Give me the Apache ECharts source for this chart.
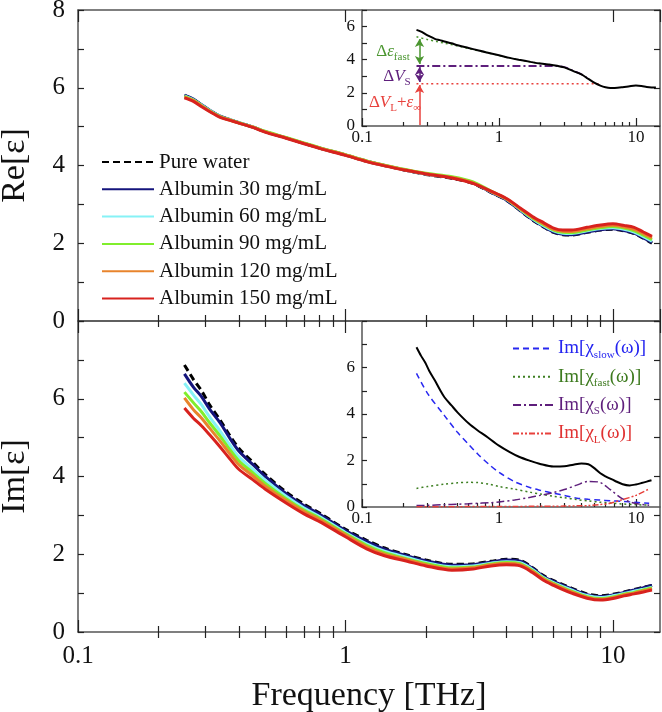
<!DOCTYPE html>
<html><head><meta charset="utf-8">
<script src="https://cdn.jsdelivr.net/npm/echarts@6/dist/echarts.min.js"></script>
<style>html,body{margin:0;padding:0;background:#fff}#c{width:662px;height:712px}</style>
</head><body><div id="c"></div>
<script>
// ---------- DATA ----------
const freq = [0.25,0.27,0.29,0.31,0.34,0.37,0.4,0.45,0.5,0.6,0.7,0.8,1.0,1.2,1.4,1.7,2.0,2.5,3.0,3.5,4.0,4.5,5.0,5.5,6.0,6.5,7.0,8.0,9.0,10,11,12,13,14];
const seriesNames = ['Pure water','Albumin 30 mg/mL','Albumin 60 mg/mL','Albumin 90 mg/mL','Albumin 120 mg/mL','Albumin 150 mg/mL'];

const reWater = [5.80,5.70,5.55,5.42,5.26,5.18,5.10,4.99,4.87,4.71,4.57,4.45,4.27,4.11,4.00,3.87,3.77,3.67,3.54,3.31,3.11,2.84,2.60,2.42,2.28,2.22,2.21,2.28,2.34,2.36,2.32,2.25,2.13,2.00];
const re30    = [5.81,5.71,5.56,5.43,5.27,5.18,5.10,4.99,4.87,4.71,4.57,4.45,4.27,4.11,4.00,3.87,3.78,3.68,3.55,3.31,3.11,2.85,2.61,2.43,2.29,2.23,2.22,2.29,2.35,2.37,2.33,2.26,2.14,2.02];
const re60    = [5.79,5.69,5.55,5.42,5.26,5.18,5.10,4.99,4.87,4.71,4.57,4.45,4.27,4.11,4.00,3.88,3.78,3.69,3.56,3.33,3.13,2.87,2.63,2.45,2.32,2.26,2.25,2.32,2.38,2.40,2.36,2.29,2.17,2.05];
const re90    = [5.78,5.68,5.54,5.41,5.26,5.17,5.10,4.99,4.88,4.72,4.58,4.46,4.28,4.12,4.01,3.89,3.80,3.71,3.58,3.34,3.14,2.88,2.65,2.48,2.34,2.28,2.27,2.34,2.40,2.43,2.39,2.32,2.21,2.09];
const re120   = [5.76,5.67,5.53,5.40,5.25,5.17,5.09,4.99,4.87,4.71,4.57,4.45,4.27,4.11,4.00,3.88,3.79,3.69,3.55,3.33,3.14,2.89,2.67,2.50,2.36,2.31,2.30,2.37,2.43,2.46,2.42,2.36,2.25,2.14];
const re150   = [5.74,5.65,5.51,5.39,5.24,5.16,5.09,4.98,4.86,4.70,4.56,4.44,4.26,4.10,3.99,3.87,3.78,3.68,3.54,3.34,3.15,2.91,2.69,2.53,2.39,2.34,2.34,2.41,2.47,2.50,2.46,2.41,2.29,2.18];

const imWater = [6.87,6.50,6.20,5.85,5.45,5.05,4.72,4.37,4.06,3.60,3.29,3.06,2.64,2.36,2.16,1.98,1.85,1.74,1.75,1.82,1.87,1.84,1.66,1.45,1.32,1.22,1.13,0.98,0.93,0.97,1.03,1.09,1.15,1.20];
const im30    = [6.64,6.30,6.05,5.74,5.38,4.98,4.65,4.31,4.01,3.56,3.25,3.03,2.61,2.33,2.13,1.96,1.83,1.72,1.73,1.80,1.85,1.82,1.64,1.43,1.30,1.20,1.11,0.96,0.91,0.95,1.02,1.08,1.14,1.20];
const im60    = [6.40,6.10,5.84,5.54,5.17,4.81,4.50,4.19,3.91,3.49,3.19,2.97,2.56,2.27,2.08,1.92,1.79,1.68,1.70,1.77,1.81,1.78,1.61,1.40,1.27,1.17,1.08,0.94,0.89,0.93,0.99,1.05,1.10,1.15];
const im90    = [6.17,5.90,5.66,5.39,5.04,4.69,4.40,4.10,3.83,3.43,3.14,2.93,2.53,2.23,2.04,1.88,1.76,1.65,1.67,1.75,1.79,1.76,1.58,1.38,1.25,1.14,1.05,0.91,0.86,0.90,0.97,1.02,1.08,1.13];
const im120   = [6.02,5.72,5.50,5.25,4.91,4.58,4.30,4.02,3.76,3.38,3.10,2.89,2.50,2.19,2.00,1.86,1.73,1.62,1.65,1.73,1.76,1.73,1.56,1.36,1.23,1.12,1.03,0.89,0.84,0.88,0.95,1.00,1.06,1.11];
const im150   = [5.76,5.50,5.30,5.08,4.76,4.45,4.18,3.92,3.68,3.32,3.04,2.84,2.45,2.14,1.96,1.82,1.70,1.59,1.62,1.70,1.73,1.70,1.53,1.33,1.20,1.09,1.00,0.87,0.82,0.86,0.93,0.98,1.03,1.08];

// inset (top): Re total and fit components
const reTotalInset = [5.80,5.70,5.55,5.42,5.26,5.18,5.10,4.99,4.87,4.71,4.57,4.45,4.27,4.11,4.00,3.87,3.77,3.67,3.54,3.31,3.11,2.84,2.60,2.44,2.34,2.30,2.30,2.34,2.40,2.44,2.41,2.36,2.33,2.32];
const reFastFreq = [0.25,0.3,0.35,0.4,0.5,0.6,0.7,0.8,1.0,1.2,1.5,2.0,2.4];
const reFast     = [5.38,5.22,5.10,5.00,4.83,4.68,4.55,4.45,4.26,4.11,3.95,3.77,3.69];
const reSFreq = [0.25,1.0,2.6,3.0,3.5,4.0,4.4];
const reS     = [3.62,3.62,3.62,3.56,3.33,3.12,2.90];
const reLFreq = [0.25,1.0,5.6];
const reL     = [2.55,2.55,2.55];
const arrowFreq = 0.263;
const arrowFast = [5.25,3.74];
const arrowS    = [3.56,2.66];
const arrowL    = [0.06,2.48];

// inset (bottom): Im fit components
const compFreq = [0.25,0.3,0.4,0.5,0.6,0.7,0.85,1.0,1.3,1.7,2.0,2.5,3.0,3.7,4.5,5.4,6.5,8.0,10,12.5];
const imSlow = [5.75,4.90,3.93,3.20,2.70,2.28,1.82,1.49,1.09,0.83,0.72,0.59,0.50,0.38,0.33,0.30,0.27,0.24,0.20,0.16];
const imFast = [0.80,0.88,0.98,1.04,1.06,1.05,0.98,0.88,0.77,0.63,0.56,0.46,0.40,0.32,0.26,0.21,0.17,0.13,0.10,0.08];
const imS    = [0.06,0.07,0.10,0.12,0.14,0.16,0.18,0.22,0.30,0.42,0.50,0.62,0.75,0.94,1.10,1.07,0.75,0.35,0.15,0.08];
const imL    = [0.01,0.01,0.01,0.01,0.02,0.02,0.02,0.02,0.02,0.03,0.03,0.03,0.04,0.05,0.06,0.10,0.16,0.32,0.50,0.78];
const compNames = ['Im[χslow(ω)]','Im[χfast(ω)]','Im[χS(ω)]','Im[χL(ω)]'];

// ticks
const xMin = 0.1, xMax = 15;
const minorTickVals = [0.2,0.3,0.4,0.5,0.6,0.7,0.8,0.9,2,3,4,5,6,7,8,9];
const reTickLabels = [0,2,4,6,8];
const imTickLabels = [0,2,4,6];
const insetTickLabels = [0,2,4,6];

// ---------- STYLE / BUILD ----------
const FONT = "'Liberation Serif','Times New Roman',serif";
const AXC = '#555', TKC = '#222';
const colors = ['#000000','#14147c','#86f2f6','#80ee2c','#e8842c','#d8221e'];

function logAxis(grid, position, showLabel, fs, len, margin, extra) {
  return Object.assign({
    type:'log', logBase:10, min:xMin, max:xMax, gridIndex:grid, position,
    axisLine:{show:true, onZero:false, lineStyle:{color:AXC, width:1.5}},
    axisTick:{show:true, inside:true, length:len, lineStyle:{color:TKC, width:1.2}},
    axisLabel:{show:showLabel, showMaxLabel:false, fontFamily:FONT, fontSize:fs, color:'#111', margin:margin},
    splitLine:{show:false}
  }, extra || {});
}
function minorAxis(grid, position, len) {
  return {
    type:'value', min:Math.log10(xMin), max:Math.log10(xMax), gridIndex:grid, position,
    axisLine:{show:false}, axisLabel:{show:false}, splitLine:{show:false},
    axisTick:{show:true, inside:true, length:len, customValues:minorTickVals.map(Math.log10), lineStyle:{color:TKC, width:1.2}}
  };
}
function valAxis(grid, position, max, labels, fs, len, margin, extra) {
  return Object.assign({
    type:'value', min:0, max:max, interval:1, gridIndex:grid, position,
    axisLine:{show:true, onZero:false, lineStyle:{color:AXC, width:1.5}},
    axisTick:{show:true, inside:true, length:len, lineStyle:{color:TKC, width:1.2}},
    axisLabel:{show:!!labels, customValues:labels || undefined, fontFamily:FONT, fontSize:fs, color:'#111', margin:margin},
    splitLine:{show:false}
  }, extra || {});
}
function pairs(xs, ys){ return xs.map((x,i)=>[x, ys[i]]); }
function line(name, xi, yi, xs, ys, color, width, type, z) {
  return {type:'line', name, xAxisIndex:xi, yAxisIndex:yi, data:pairs(xs,ys), showSymbol:false, symbol:'none',
    smooth:0.3, clip:true, z:z||2, silent:true,
    lineStyle:{color, width, type:type||'solid', cap:'butt'}, itemStyle:{color}};
}

const mainRe = [reWater,re30,re60,re90,re120,re150];
const mainIm = [imWater,im30,im60,im90,im120,im150];
const series = [];
seriesNames.forEach((n,i)=>{
  series.push(line(n,0,0,freq,mainRe[i],colors[i],3,i===0?[7,4]:'solid',2+i));
});
seriesNames.forEach((n,i)=>{
  series.push(line(n,4,2,freq,mainIm[i],colors[i],3,i===0?[7,4]:'solid',2+i));
});

// top inset
const cG = '#4b9630', cP = '#5e1f7c', cR = '#e8413c', cB = '#2828f0';
series.push(line('reTotal',8,4,freq,reTotalInset,'#000',2,'solid',5));
series.push(line('reFast',8,4,reFastFreq,reFast,cG,1.5,[2,3],4));
series.push(line('reS',8,4,reSFreq,reS,cP,1.8,[8,3,2,3],4));
series.push(line('reL',8,4,reLFreq,reL,cR,1.5,[2,3],4));
function arrowLine(name, y0, y1, color, sym0, sym1) {
  return {type:'line', name, xAxisIndex:8, yAxisIndex:4, data:[], silent:true,
    markLine:{silent:true, animation:false, symbolSize:[7,8], label:{show:false},
      lineStyle:{color, width:1.5, type:'solid'},
      data:[[{coord:[arrowFreq,y0], symbol:sym0},{coord:[arrowFreq,y1], symbol:sym1}]]}};
}
series.push(arrowLine('arF', arrowFast[0], arrowFast[1], cG, 'arrow','arrow'));
series.push(arrowLine('arS', arrowS[0], arrowS[1], cP, 'arrow','arrow'));
series.push(arrowLine('arL', arrowL[0], arrowL[1], cR, 'none','arrow'));

// bottom inset
series.push(line('imTotal',10,5,freq.slice(0,33),imWater.slice(0,33),'#000',2,'solid',5));
series.push(line(compNames[0],10,5,compFreq,imSlow,cB,1.5,[6,4],4));
series.push(line(compNames[1],10,5,compFreq,imFast,'#3d7f22',1.5,[2,3],4));
series.push(line(compNames[2],10,5,compFreq,imS,cP,1.5,[8,3,2,3],4));
series.push(line(compNames[3],10,5,compFreq,imL,cR,1.5,[6,2,2,2,2,2],4));

const subRich = {
  a:{fontFamily:FONT, fontSize:19, lineHeight:24},
  s:{fontFamily:FONT, fontSize:11, lineHeight:11, verticalAlign:'bottom'}
};
const compLabel = {
  'Im[χslow(ω)]':'{a|Im[χ}{s|slow}{a|(ω)]}',
  'Im[χfast(ω)]':'{a|Im[χ}{s|fast}{a|(ω)]}',
  'Im[χS(ω)]':'{a|Im[χ}{s|S}{a|(ω)]}',
  'Im[χL(ω)]':'{a|Im[χ}{s|L}{a|(ω)]}'
};
const compColors = ['#2424f0','#3d7a1e','#5e1f7c','#e03232'];

const annRich = {
  n:{fontFamily:FONT, fontSize:17, lineHeight:22},
  i:{fontFamily:FONT, fontSize:17, fontStyle:'italic', lineHeight:22},
  s:{fontFamily:FONT, fontSize:11, lineHeight:10, verticalAlign:'bottom'}
};

const gridBase = {outerBoundsMode:'none', containLabel:false};
const option = {
  animation:false,
  backgroundColor:'#fff',
  grid:[
    Object.assign({left:78, top:10, width:582, height:311}, gridBase),
    Object.assign({left:78, top:321, width:582, height:311}, gridBase),
    Object.assign({left:362, top:10, width:298, height:116}, gridBase),
    Object.assign({left:362, top:321, width:298, height:186}, gridBase)
  ],
  xAxis:[
    logAxis(0,'bottom',false,25,12,12),
    minorAxis(0,'bottom',6),
    logAxis(0,'top',false,25,12,12),
    minorAxis(0,'top',6),
    logAxis(1,'bottom',true,25,12,12,{name:'Frequency [THz]', nameLocation:'middle', nameGap:47,
      nameTextStyle:{fontFamily:FONT, fontSize:34, color:'#111'}}),
    minorAxis(1,'bottom',6),
    logAxis(1,'top',false,25,12,12),
    minorAxis(1,'top',6),
    logAxis(2,'bottom',true,17,8,3),
    minorAxis(2,'bottom',4),
    logAxis(3,'bottom',true,17,8,3),
    minorAxis(3,'bottom',4)
  ],
  yAxis:[
    valAxis(0,'left',8,reTickLabels,25,6,13,{name:'Re[ε]', nameLocation:'middle', nameGap:46,
      nameTextStyle:{fontFamily:FONT, fontSize:34, color:'#111'}}),
    valAxis(0,'right',8,null,25,6,8),
    valAxis(1,'left',8,imTickLabels,25,6,13,{name:'Im[ε]', nameLocation:'middle', nameGap:46,
      nameTextStyle:{fontFamily:FONT, fontSize:34, color:'#111'}}),
    valAxis(1,'right',8,null,25,6,8),
    valAxis(2,'left',7,insetTickLabels,17,5,7),
    valAxis(3,'left',8,insetTickLabels,17,5,7)
  ],
  legend:[
    {left:96, top:146, orient:'vertical', itemWidth:52, itemHeight:3, itemGap:5.3, selectedMode:false,
     itemStyle:{opacity:0, borderWidth:0},
     data:seriesNames, textStyle:{fontFamily:FONT, fontSize:21, color:'#111', lineHeight:22}},
    {left:507, top:334, orient:'vertical', itemWidth:40, itemHeight:3, itemGap:6.8, selectedMode:false,
     itemStyle:{opacity:0, borderWidth:0},
     data:compNames.map((n,i)=>({name:n, textStyle:{color:compColors[i]}})),
     formatter:n=>compLabel[n],
     textStyle:{fontFamily:FONT, fontSize:19, rich:subRich}}
  ],
  graphic:[
    {type:'text', x:393, y:52, z:100, style:{text:'{n|Δ}{i|ε}{s|fast}', rich:annRich, fill:cG, align:'center', verticalAlign:'middle'}},
    {type:'text', x:397, y:77, z:100, style:{text:'{n|Δ}{i|V}{s|S}', rich:annRich, fill:cP, align:'center', verticalAlign:'middle'}},
    {type:'text', x:395, y:103, z:100, style:{text:'{n|Δ}{i|V}{s|L}{n|+}{i|ε}{s|∞}', rich:annRich, fill:cR, align:'center', verticalAlign:'middle'}}
  ],
  series
};
const chart = echarts.init(document.getElementById('c'), null, {renderer:'canvas'});
chart.setOption(option);
</script></body></html>
